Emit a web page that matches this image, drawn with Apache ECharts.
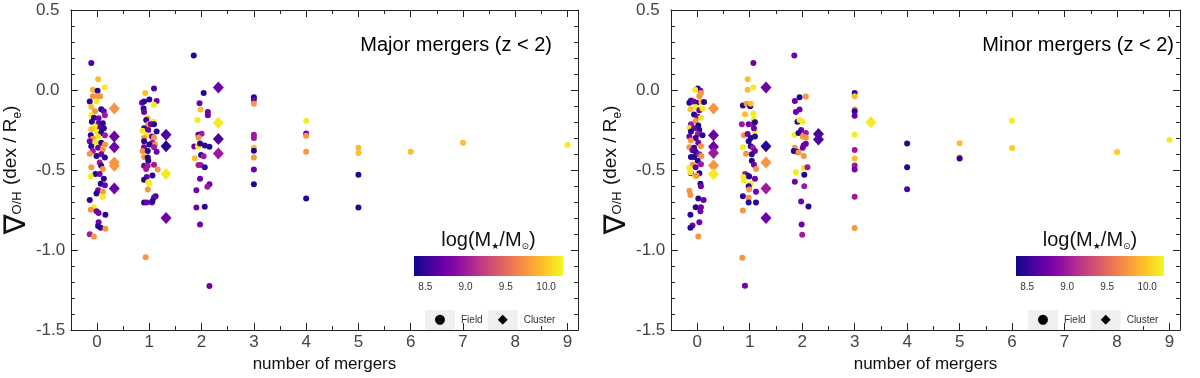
<!DOCTYPE html>
<html><head><meta charset="utf-8">
<script src="https://cdn.jsdelivr.net/npm/echarts@6/dist/echarts.min.js"></script>
<style>html,body{margin:0;padding:0;background:#fff}#c{width:1200px;height:378px}</style>
</head><body><div id="c"></div>
<script>
// ---------------- data ----------------
const xTickValues = [0,1,2,3,4,5,6,7,8,9];
const xMinorValues = [-0.5,0.5,1.5,2.5,3.5,4.5,5.5,6.5,7.5,8.5];
const cbTickValues = [8.5,9.0,9.5,10.0];
const massRange = [8.36, 10.21];
const plasmaColors = ['#0d0887','#41049d','#6a00a8','#8f0da4','#b12a90','#cc4778','#e16462','#f2844b','#fca636','#fcce25','#f0f921'];
const panelTitles = ['Major mergers (z < 2)', 'Minor mergers (z < 2)'];
const legendNames = ['Field', 'Cluster'];

// [number of mergers (jittered), gradient, log mass]
const majorField = [
[-0.11,0.169,8.6],[0.02,0.067,9.95],[-0.08,0.002,9.9],[0.01,-0.004,8.45],[0.15,0.016,10.15],
[-0.08,-0.039,9.75],[0.01,-0.039,9.75],[0.06,-0.039,9.75],[-0.14,-0.071,8.45],[-0.01,-0.071,10.15],
[-0.11,-0.106,9.95],[0.08,-0.12,8.45],[0.13,-0.133,8.75],[-0.04,-0.133,9.75],[0.15,-0.157,9.0],
[-0.11,-0.157,10.15],[-0.06,-0.173,8.45],[0.03,-0.177,8.75],[-0.1,-0.198,8.45],[0.03,-0.208,8.75],
[0.11,-0.208,8.45],[-0.04,-0.228,10.15],[-0.11,-0.245,9.95],[0.06,-0.239,8.75],[0.13,-0.239,8.45],
[-0.01,-0.259,10.15],[0.08,-0.269,8.45],[-0.12,-0.283,8.45],[0.02,-0.29,10.15],[0.15,-0.283,9.0],
[-0.08,-0.304,9.75],[-0.14,-0.32,8.75],[-0.03,-0.324,10.15],[0.08,-0.33,8.45],[0.15,-0.34,9.75],
[-0.11,-0.351,8.45],[0.02,-0.361,8.75],[-0.08,-0.381,9.0],[0.11,-0.371,9.75],[-0.14,-0.398,9.75],
[-0.01,-0.412,8.45],[0.08,-0.402,8.75],[0.15,-0.422,8.45],[0.05,-0.453,9.0],[0.08,-0.473,8.45],
[-0.11,-0.483,9.75],[0.11,-0.493,9.75],[-0.03,-0.524,8.45],[0.05,-0.524,8.75],[-0.12,-0.54,10.15],
[0.13,-0.555,8.45],[0.07,-0.585,8.45],[0.15,-0.595,8.75],[0.02,-0.626,8.75],[0.11,-0.636,9.75],
[-0.01,-0.646,8.45],[0.11,-0.667,10.15],[-0.14,-0.687,8.45],[-0.06,-0.732,10.15],[-0.12,-0.748,9.75],
[-0.01,-0.758,8.75],[0.03,-0.769,8.75],[0.16,-0.779,8.45],[0.03,-0.826,8.75],[0.02,-0.85,8.45],
[0.07,-0.86,8.45],[0.16,-0.866,9.75],[-0.14,-0.901,9.0],[-0.06,-0.915,9.75],
[1.09,0.01,8.6],[0.92,-0.018,9.95],[1.0,-0.059,8.45],[1.14,-0.069,8.75],[0.86,-0.08,8.75],
[0.9,-0.071,8.45],[1.09,-0.092,10.15],[0.89,-0.116,8.45],[0.9,-0.137,8.75],[0.97,-0.177,9.95],
[0.94,-0.188,8.45],[1.08,-0.198,10.15],[0.98,-0.214,9.75],[1.03,-0.214,8.75],[1.09,-0.214,8.45],
[0.9,-0.239,8.45],[0.87,-0.255,10.15],[0.98,-0.249,8.75],[1.14,-0.259,8.45],[0.95,-0.283,10.15],
[1.05,-0.29,8.75],[1.09,-0.296,9.75],[0.9,-0.3,9.75],[0.9,-0.32,8.45],[1.06,-0.33,9.0],
[1.11,-0.34,9.75],[1.0,-0.34,8.45],[0.9,-0.357,8.75],[1.09,-0.357,9.0],[0.87,-0.381,9.75],
[0.97,-0.381,8.45],[1.14,-0.385,8.75],[0.9,-0.418,9.75],[0.97,-0.422,8.45],[0.98,-0.442,8.45],
[0.9,-0.473,8.75],[0.97,-0.473,9.0],[1.09,-0.467,9.0],[1.16,-0.497,9.75],[0.94,-0.493,9.0],
[1.06,-0.534,8.45],[0.95,-0.544,8.75],[0.9,-0.561,8.45],[0.98,-0.575,10.15],[1.0,-0.585,10.15],
[0.97,-0.622,9.75],[1.12,-0.663,8.45],[1.09,-0.671,8.75],[0.9,-0.703,8.45],[0.95,-0.703,8.75],
[1.05,-0.703,8.75],[1.06,-0.693,8.45],[0.93,-1.045,9.75],
[1.85,0.216,8.45],[2.04,-0.018,8.45],[1.96,-0.082,8.75],[1.98,-0.122,9.95],[2.12,-0.137,8.75],
[2.12,-0.157,8.75],[1.92,-0.188,10.15],[1.94,-0.279,8.45],[2.0,-0.273,9.0],[1.94,-0.296,9.75],
[1.86,-0.353,8.75],[1.93,-0.353,10.15],[1.97,-0.334,8.45],[2.06,-0.347,8.45],[2.15,-0.355,8.45],
[1.99,-0.406,8.45],[2.04,-0.414,9.0],[1.87,-0.426,9.95],[1.94,-0.469,9.0],[1.98,-0.469,9.0],
[2.06,-0.483,8.45],[1.97,-0.554,8.75],[1.9,-0.626,8.75],[2.15,-0.589,8.75],[2.11,-0.605,9.0],
[1.9,-0.734,8.75],[2.06,-0.73,8.45],[1.97,-0.84,8.75],[2.15,-1.225,8.75],
[3,-0.045,8.45],[3,-0.061,8.75],[3,-0.086,9.75],[3,-0.279,9.0],[3,-0.3,9.0],
[3,-0.361,9.95],[3,-0.379,8.45],[3,-0.422,9.75],[3,-0.497,8.75],[3,-0.589,8.45],
[4,-0.192,10.15],[4,-0.271,8.75],[4,-0.285,9.75],[4,-0.385,9.75],[4,-0.677,8.45],
[5,-0.361,9.95],[5,-0.393,9.95],[5,-0.53,8.45],[5,-0.734,8.45],
[6,-0.385,9.95],[7,-0.33,9.95],[9,-0.343,10.15]
];
const majorCluster = [
[0.33,-0.116,9.75],[0.33,-0.29,8.75],[0.33,-0.357,8.75],[0.33,-0.453,9.75],[0.33,-0.473,9.75],[0.33,-0.616,8.75],
[1.32,-0.279,8.6],[1.32,-0.351,8.45],[1.32,-0.524,10.15],[1.32,-0.799,8.75],
[2.32,0.016,8.75],[2.32,-0.204,10.15],[2.32,-0.306,8.6],[2.32,-0.396,9.0]
];
const minorField = [
[0.01,0.01,8.45],[0.06,-0.004,8.75],[-0.04,0.002,10.15],[0.07,-0.018,9.75],[0.04,-0.039,9.75],
[-0.12,-0.065,8.75],[-0.15,-0.08,8.45],[-0.01,-0.08,8.45],[-0.07,-0.071,8.75],[0.08,-0.075,9.95],
[0.13,-0.075,8.45],[-0.03,-0.106,10.15],[-0.13,-0.12,9.95],[0.04,-0.126,8.75],[0.1,-0.116,10.15],
[-0.06,-0.153,8.45],[0.01,-0.167,8.75],[0.07,-0.173,10.15],[-0.03,-0.194,9.75],[-0.12,-0.214,9.0],
[0.02,-0.222,8.45],[-0.15,-0.239,10.15],[-0.06,-0.239,8.75],[0.04,-0.249,8.45],[-0.12,-0.259,8.45],
[0.01,-0.275,9.0],[-0.15,-0.29,8.75],[0.1,-0.283,8.45],[-0.03,-0.3,8.45],[-0.12,-0.316,9.75],
[0.02,-0.33,8.75],[-0.15,-0.357,9.75],[-0.06,-0.361,8.45],[0.07,-0.351,9.75],[-0.09,-0.377,8.75],
[-0.03,-0.385,8.45],[0.04,-0.402,9.0],[-0.12,-0.418,8.45],[-0.06,-0.418,8.45],[0.08,-0.412,9.75],
[0.01,-0.442,8.45],[0.07,-0.463,9.0],[-0.09,-0.467,9.75],[-0.15,-0.487,10.15],[-0.03,-0.483,8.75],
[-0.12,-0.52,8.75],[-0.13,-0.514,10.15],[0.04,-0.52,8.45],[-0.04,-0.54,10.15],[-0.01,-0.534,9.75],
[0.06,-0.585,8.45],[0.07,-0.601,8.75],[-0.15,-0.63,9.75],[-0.13,-0.656,9.75],[0.02,-0.677,8.45],
[0.12,-0.687,8.75],[-0.03,-0.732,8.45],[0.07,-0.732,8.75],[0.06,-0.758,8.75],[-0.13,-0.779,8.45],
[-0.09,-0.846,8.75],[-0.13,-0.86,8.45],[0.04,-0.826,8.75],[0.02,-0.915,9.75],
[1.07,0.169,8.75],[0.96,0.067,9.95],[0.96,0.002,9.95],[1.07,0.016,10.15],[0.87,-0.096,8.45],
[0.94,-0.086,9.75],[1.01,-0.102,8.45],[1.02,-0.086,9.95],[0.91,-0.151,9.95],[1.07,-0.147,10.15],
[1.08,-0.181,10.15],[0.85,-0.214,9.0],[0.98,-0.214,8.75],[1.06,-0.214,9.0],[1.1,-0.202,8.45],
[1.1,-0.255,10.15],[1.08,-0.239,8.75],[0.89,-0.283,9.75],[0.96,-0.275,8.75],[1.02,-0.3,8.45],
[1.1,-0.29,8.45],[0.98,-0.32,8.45],[0.87,-0.357,10.15],[1.02,-0.351,8.45],[1.06,-0.361,9.0],
[1.1,-0.381,8.75],[0.93,-0.398,9.75],[1.04,-0.402,8.45],[1.04,-0.442,8.45],[1.08,-0.467,8.75],
[1.12,-0.493,9.75],[0.91,-0.524,9.0],[0.96,-0.534,8.45],[0.88,-0.544,10.15],[0.89,-0.565,10.15],
[0.99,-0.54,8.45],[1.1,-0.555,8.75],[1.02,-0.585,10.15],[0.98,-0.601,8.45],[0.99,-0.622,9.75],
[1.12,-0.636,8.75],[0.87,-0.663,8.45],[0.98,-0.673,9.75],[0.98,-0.703,8.45],[1.12,-0.703,8.45],
[0.87,-0.752,9.75],[0.86,-1.048,9.75],[0.91,-1.223,8.75],
[1.85,0.216,8.75],[1.95,-0.045,8.45],[2.07,-0.041,9.75],[1.86,-0.069,8.75],[1.88,-0.137,8.75],
[1.95,-0.122,8.75],[1.91,-0.198,8.45],[1.95,-0.188,10.15],[2.01,-0.198,10.15],[1.98,-0.249,8.75],
[1.86,-0.279,10.15],[1.93,-0.269,8.45],[2.07,-0.269,9.0],[2.01,-0.29,9.75],[2.07,-0.296,9.75],
[1.86,-0.361,9.75],[1.84,-0.381,8.45],[1.9,-0.385,8.45],[1.93,-0.391,9.75],[2.01,-0.361,8.75],
[2.03,-0.345,8.75],[2.07,-0.336,8.75],[2.03,-0.412,9.75],[2.03,-0.487,10.15],[2.1,-0.483,9.0],
[1.88,-0.514,10.15],[2.04,-0.53,8.45],[1.86,-0.573,8.75],[2.04,-0.601,9.0],[1.98,-0.697,8.75],
[2.12,-0.728,8.45],[1.99,-0.84,8.75],[2.0,-0.905,9.0],
[3,-0.018,8.45],[3,-0.039,9.95],[3,-0.122,9.75],[3,-0.133,8.45],[3,-0.161,8.75],[3,-0.279,10.15],
[3,-0.375,9.0],[3,-0.428,9.95],[3,-0.471,9.0],[3,-0.497,8.75],[3,-0.667,9.0],[3,-0.862,9.75],
[4,-0.334,8.45],[4,-0.483,8.45],[4,-0.62,8.6],
[5,-0.332,9.95],[5,-0.422,9.75],[5,-0.428,8.45],
[6,-0.192,10.15],[6,-0.363,10.0],[8,-0.387,10.0],[9,-0.31,10.15]
];
const minorCluster = [
[0.31,-0.116,9.75],[0.31,-0.283,8.75],[0.31,-0.355,8.75],[0.31,-0.393,9.0],[0.31,-0.471,9.75],[0.31,-0.524,10.15],
[1.31,0.016,8.75],[1.31,-0.351,8.45],[1.31,-0.453,9.75],[1.31,-0.616,9.0],[1.31,-0.799,8.75],
[2.31,-0.274,8.6],[2.31,-0.309,8.6],
[3.31,-0.202,10.15]
];

// ---------------- layout / style ----------------
const FONT = "'Liberation Sans', Arial, sans-serif";
const FRAME = '#222';
const panels = [
  {grid:{left:68, top:10, width:510, height:327}, cb:{left:414, top:256, width:149, height:20}, legendLeft:415, titleRight:643, field:majorField, cluster:majorCluster},
  {grid:{left:671, top:10, width:509, height:327}, cb:{left:1016, top:256, width:148, height:20}, legendLeft:1018, titleRight:21, field:minorField, cluster:minorCluster}
];

const grids = [], xAxes = [], yAxes = [], series = [], titles = [], legends = [];
const gradientStops = plasmaColors.map((c,i)=>({offset:i/(plasmaColors.length-1), color:c}));

panels.forEach(p => { grids.push(p.grid); });
panels.forEach(p => { grids.push(p.cb); });

function xAx(gi, pos, ticks, len, withLabel, withLine) {
  const ax = {
    type:'value', gridIndex:gi, position:pos, min:-0.5, max:9.2,
    splitLine:{show:false},
    axisLine:{show:withLine, onZero:false, lineStyle:{color:FRAME, width:1}},
    axisTick:{show:true, inside:true, length:len, customValues:ticks, lineStyle:{color:FRAME}},
    axisLabel:{show:false}
  };
  if (withLabel) {
    ax.axisLabel = {show:true, customValues:xTickValues, fontSize:17, color:'#444', fontFamily:FONT, margin:4};
    ax.name = 'number of mergers';
    ax.nameLocation = 'middle';
    ax.nameGap = 24;
    ax.nameTextStyle = {fontSize:17, color:'#111', fontFamily:FONT};
  }
  return ax;
}
function yAx(gi, pos, withLabel) {
  const ax = {
    type:'value', gridIndex:gi, position:pos, min:-1.5, max:0.5, interval:0.5,
    splitLine:{show:false},
    axisLine:{show:true, onZero:false, lineStyle:{color:FRAME, width:1}},
    axisTick:{show:true, inside:true, length:7, lineStyle:{color:FRAME}},
    minorTick:{show:true, splitNumber:5, length:4, lineStyle:{color:FRAME}},
    axisLabel:{show:withLabel, align:'left', margin:35, fontSize:17, color:'#444', fontFamily:FONT,
      formatter:v=>v.toFixed(1)}
  };
  if (withLabel) {
    ax.name = '{n|∇}{s|O/H}{t| (dex / R}{e|e}{t|)}';
    ax.nameLocation = 'middle';
    ax.nameRotate = 90;
    ax.nameGap = 37;
    ax.nameTextStyle = {fontFamily:FONT, color:'#111', rich:{
      n:{fontSize:30, lineHeight:31, fontFamily:"'DejaVu Sans'", color:'#111', verticalAlign:'bottom'},
      s:{fontSize:13, lineHeight:13, padding:[10,1,0,0], verticalAlign:'top', color:'#111', fontFamily:FONT},
      t:{fontSize:19, lineHeight:21, verticalAlign:'top', color:'#111', fontFamily:FONT},
      e:{fontSize:12, lineHeight:12, padding:[11,0,0,0], verticalAlign:'top', color:'#111', fontFamily:FONT}
    }};
  }
  return ax;
}

panels.forEach((p, i) => {
  const xBase = xAxes.length;
  xAxes.push(xAx(i,'bottom',xTickValues,7,true,true));
  xAxes.push(xAx(i,'bottom',xMinorValues,4,false,false));
  xAxes.push(xAx(i,'top',xTickValues,7,false,true));
  xAxes.push(xAx(i,'top',xMinorValues,4,false,false));
  const yBase = yAxes.length;
  yAxes.push(yAx(i,'left',true));
  yAxes.push(yAx(i,'right',false));
  series.push({type:'scatter', name:legendNames[0], xAxisIndex:xBase, yAxisIndex:yBase,
    data:p.field, symbol:'circle', symbolSize:6, itemStyle:{opacity:1}});
  series.push({type:'scatter', name:legendNames[1], xAxisIndex:xBase, yAxisIndex:yBase,
    data:p.cluster, symbol:'diamond', symbolSize:[11,12], itemStyle:{opacity:1}});
  titles.push({text:panelTitles[i], right:p.titleRight, top:30,
    textStyle:{fontSize:20, fontWeight:'normal', color:'#000', fontFamily:FONT}});
  legends.push({left:p.legendLeft, top:305, orient:'horizontal', itemWidth:0, itemHeight:0, itemGap:0,
    data:legendNames,
    formatter:n => n === 'Field' ? '{b|●}{t|Field}' : '{b|◆}{t|Cluster}',
    textStyle:{rich:{
      b:{width:30, height:20, lineHeight:20, backgroundColor:'#efefef', align:'center', fontSize:13, color:'#000', fontFamily:"'DejaVu Sans'"},
      t:{fontSize:10, color:'#333', padding:[0,0,0,6], fontFamily:FONT}
    }}});
});

panels.forEach((p, i) => {
  const gi = 2 + i;
  const xb = xAxes.length;
  xAxes.push({type:'value', gridIndex:gi, position:'bottom', min:massRange[0], max:massRange[1],
    splitLine:{show:false}, axisLine:{show:false}, axisTick:{show:false},
    axisLabel:{show:true, customValues:cbTickValues, formatter:v=>v.toFixed(1), fontSize:10, color:'#333', fontFamily:FONT, margin:6}});
  xAxes.push({type:'value', gridIndex:gi, position:'top', min:massRange[0], max:massRange[1],
    splitLine:{show:false}, axisLine:{show:false}, axisTick:{show:false}, axisLabel:{show:false},
    name:'{t|log(M}{s|★}{t|/M}{s|⊙}{t|)}', nameLocation:'middle', nameGap:4,
    nameTextStyle:{rich:{
      t:{fontSize:20, lineHeight:22, color:'#111', fontFamily:FONT, verticalAlign:'top'},
      s:{fontSize:9, lineHeight:9, padding:[12,0,0,0], color:'#111', verticalAlign:'top', fontFamily:"'DejaVu Sans'"}
    }}});
  const yb = yAxes.length;
  yAxes.push({type:'value', gridIndex:gi, min:0, max:1, show:false});
  series.push({type:'custom', xAxisIndex:xb, yAxisIndex:yb, silent:true, clip:false,
    data:[[massRange[0], massRange[1]]],
    renderItem:(params, api) => {
      const p0 = api.coord([api.value(0), 0]);
      const p1 = api.coord([api.value(1), 1]);
      return {type:'rect', shape:{x:p0[0], y:p1[1], width:p1[0]-p0[0], height:p0[1]-p1[1]},
        style:{fill:new echarts.graphic.LinearGradient(0,0,1,0,gradientStops)}};
    }});
});

const chart = echarts.init(document.getElementById('c'), null, {renderer:'canvas'});
chart.setOption({
  animation:false,
  backgroundColor:'#fff',
  textStyle:{fontFamily:FONT},
  title:titles,
  legend:legends,
  grid:grids,
  xAxis:xAxes,
  yAxis:yAxes,
  visualMap:[{type:'continuous', show:false, dimension:2, min:massRange[0], max:massRange[1],
    seriesIndex:[0,1,2,3], inRange:{color:plasmaColors}}],
  series:series
});
</script></body></html>
